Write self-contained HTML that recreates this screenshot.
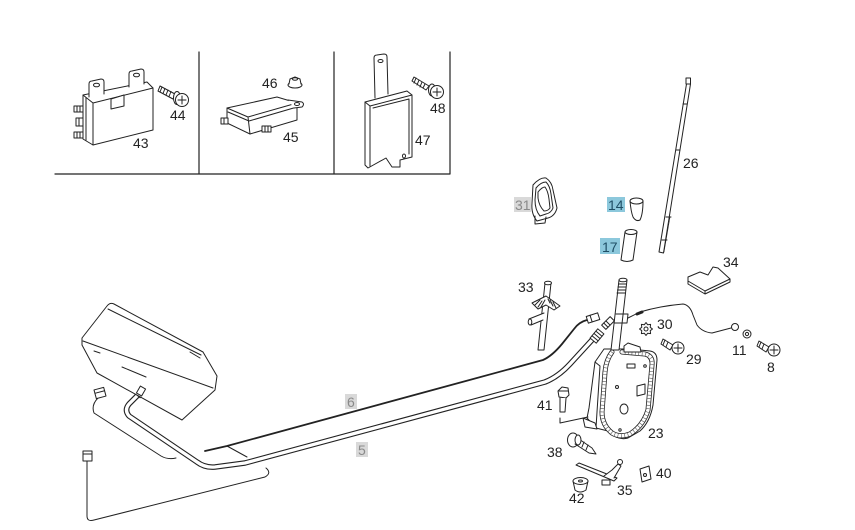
<!DOCTYPE html>
<html><head><meta charset="utf-8">
<style>
html,body{margin:0;padding:0;background:#fff;}
svg{display:block;}
text{font-family:"Liberation Sans",sans-serif;font-size:14px;fill:#222;}
.g{fill:#8a8a8a;}
.b{fill:#1f4f66;}
</style></head><body>
<svg width="855" height="530" viewBox="0 0 855 530" xmlns="http://www.w3.org/2000/svg">
<rect width="855" height="530" fill="#fff"/>
<g fill="none" stroke="#222" stroke-width="1" stroke-linejoin="round" stroke-linecap="round">
<!-- frame -->
<path d="M55,174 H450 M199,52 V174 M334,52 V174 M450,52 V174" stroke-width="1.2"/>

<!-- 43 -->
<path d="M83,95 L147,82 L153,88 L153,130 L93,145 L83,139 Z" fill="#fff"/>
<path d="M83,95 L93,103 L153,88 M93,103 V145 M86,98 V140"/>
<path d="M89,97 V84 Q89,81 92,81 L101,79 Q104,79 104,82 V94" fill="#fff"/>
<ellipse cx="96.5" cy="85" rx="3" ry="1.8"/>
<path d="M129,87 V74 Q129,71 132,71 L141,69 Q144,69 144,72 V84" fill="#fff"/>
<ellipse cx="136.5" cy="75" rx="3" ry="1.8"/>
<path d="M111,99 V109 L124,106 V95 M111,99 L124,95" fill="#fff"/>
<rect x="74" y="106" width="9" height="6" fill="#fff"/><path d="M77,106 V112 M80,106 V112"/>
<rect x="76" y="118" width="7" height="8" fill="#fff"/><path d="M79,118 V126"/>
<rect x="74" y="132" width="9" height="6" fill="#fff"/><path d="M77,132 V138 M80,132 V138"/>

<!-- 44 screw -->
<path d="M160,86 L175,94 L173,99 L158,91 Z" fill="#fff"/>
<path d="M162,87 L160,92 M165,88.5 L163,93.5 M168,90 L166,95 M171,91.5 L169,96.5"/>
<ellipse cx="177" cy="98" rx="3.5" ry="6.5" fill="#fff"/>
<circle cx="182" cy="100" r="6.5" fill="#fff"/>
<path d="M178,100 H186 M182,96 V104"/>

<!-- 45 -->
<path d="M227,108 L277,97 L297,103 L297,120 L250,134 L227,123 Z" fill="#fff"/>
<path d="M227,108 L248,117 L297,103 M248,117 L250,134 M228,112 L249,121 L297,107"/>
<path d="M288,100 L302,102 Q305,104 302,107 L294,108" fill="#fff"/>
<ellipse cx="297" cy="104" rx="2.5" ry="1.5"/>
<rect x="221" y="118" width="7" height="6" fill="#fff"/><path d="M224,118 V124"/>
<rect x="262" y="126" width="9" height="6" fill="#fff"/><path d="M265,126 V132 M268,126 V132"/>
<!-- 46 nut -->
<ellipse cx="295" cy="85" rx="7" ry="3" fill="#fff"/>
<path d="M289,84 L290,79 L295,77 L300,79 L301,84" fill="#fff"/>
<ellipse cx="295" cy="79" rx="2.5" ry="1.2"/>

<!-- 47 -->
<path d="M375,98 L374,58 Q374,55 377,55 L384,54 Q387,54 387,57 L388,94" fill="#fff"/>
<ellipse cx="380.5" cy="61" rx="2.5" ry="1.5"/>
<path d="M365,102 L407,91 L412,95 L412,157 L400,160 V167 L392,167 L386,158 L368,168 L365,165 Z" fill="#fff"/>
<path d="M365,102 L370,106 L412,95 M370,106 V166 M373,108 L409,99 V154"/>
<ellipse cx="404" cy="156" rx="1.5" ry="2"/>
<!-- 48 screw -->
<path d="M414,77 L429,86 L426,90 L412,81 Z" fill="#fff"/>
<path d="M416,78 L414,83 M419,80 L417,85 M422,82 L420,87 M425,84 L423,88"/>
<ellipse cx="432" cy="90" rx="3.5" ry="6" fill="#fff"/>
<circle cx="437" cy="92" r="6.5" fill="#fff"/>
<path d="M433,92 H441 M437,88 V96"/>

<!-- 26 rod -->
<path d="M686.5,84 L659,252 L663.5,253 L690.5,84 Z" fill="#fff"/>
<rect x="686" y="78" width="4.5" height="6" fill="#fff"/>
<path d="M666,217 L671,217 M662,240 L667,240 M683,104 L687,104 M676,150 L680,150"/>
<path d="M670,217 L664,252" stroke-width="0.6"/>

<!-- 34 plate -->
<path d="M688,277 L700,272 L708,275 L713,267 L718,268 L730,279 L705,291 L688,281 Z" fill="#fff"/>
<path d="M688,281 L688,284 L705,294 L730,282 L730,279 M705,291 V294"/>

<!-- 31 -->
<path d="M533,185 Q540,177 546,178 Q552,182 553,190 L557,208 Q555,216 548,218 L537,221 Q531,214 532,203 Z" fill="#fff"/>
<path d="M536,188 Q541,182 546,182 Q550,186 551,194 L553,208 Q551,213 546,214 L540,216 Q535,210 535,200 Z"/>
<path d="M538,192 Q542,187 545,187 Q548,191 549,199 L550,208 Q548,211 544,211 Q539,206 538,198 Z"/>
<path d="M535,216 L535,224 L545,223 L546,217"/>

<!-- 14 -->
<path d="M630,201 Q631,212 633,217 Q636,222 640,220 Q643,214 643,201" fill="#fff"/>
<ellipse cx="636.5" cy="201" rx="6.5" ry="3" fill="#fff"/>
<!-- 17 -->
<path d="M625,232 L621,260 Q627,263 633,260 L637,232" fill="#fff"/>
<ellipse cx="631" cy="232" rx="6" ry="2.5" fill="#fff"/>

<!-- cable 6 -->
<path d="M205,451 L227,446 L543,360 Q552,356 562,344 L574,329 Q579,322 587,320" stroke-width="1.8"/>
<path d="M227,446 L247,457"/>
<g transform="translate(593,318) rotate(-18)"><rect x="-6" y="-3.5" width="12" height="7" fill="#fff"/><path d="M-2,-3.5 V3.5"/></g>

<!-- cable 5 tube -->
<path d="M137,396 L129,404 Q124,410 129,416 L197,462 Q205,468 215,467 L245,463 L545,382 Q558,377 570,364 L592,340" stroke-width="5.5"/>
<path d="M137,396 L129,404 Q124,410 129,416 L197,462 Q205,468 215,467 L245,463 L545,382 Q558,377 570,364 L592,340" stroke="#fff" stroke-width="3.3"/>
<g transform="translate(141,392) rotate(-50)"><rect x="-5" y="-3" width="10" height="6" fill="#fff"/><path d="M5,-1.5 H9 V1.5 H5 M-2,-3 V3 M1,-3 V3"/></g>
<g transform="translate(597,336) rotate(-50)"><rect x="-6" y="-4" width="12" height="8" fill="#fff"/><path d="M-3,-4 V4 M0,-4 V4 M3,-4 V4"/></g>

<!-- radio box -->
<path d="M107,306 Q110,302 114,304 L203,352 L217,376 L215,390 L182,420 L97,373 L82,345 L82,338 Z" fill="#fff"/>
<path d="M83,341 L213,388 M94,351 L100,353 M122,367 L146,377 M190,352 L200,358 M108,309 L201,355"/>
<g transform="translate(141,391) rotate(-60)"><rect x="-4" y="-3" width="8" height="6" fill="#fff"/></g>

<!-- lower connectors & wires -->
<path d="M98,398 Q91,405 94,413 L161,456 Q168,460 176,458"/>
<g transform="translate(100,393) rotate(-15)"><rect x="-5" y="-4.5" width="10" height="9" fill="#fff"/><path d="M-5,-1 H5"/></g>
<path d="M87,461 L87,516 Q87,522 94,520 L265,477 Q272,473 266,468"/>
<rect x="83" y="451" width="9" height="10" fill="#fff"/><path d="M83,454 H92"/>

<!-- 33 -->
<path d="M545,283 L551,283 L544,350 L538,350 Z" fill="#fff"/>
<ellipse cx="548" cy="283" rx="3.5" ry="1.8" fill="#fff"/>
<path d="M532,303 L546,296 L560,306 L554,310 L546,305 L538,309 Z" fill="#fff"/>
<path d="M535,305 L540,300 M538,307 L542,301 M541,307 L545,300 M550,303 L548,299 M553,306 L550,300 M556,308 L553,302"/>
<path d="M544,313 L529,319 L531,325 L543,320" fill="#fff"/>
<ellipse cx="530" cy="322" rx="1.8" ry="3" fill="#fff"/>

<!-- antenna motor 23 -->
<path d="M604,349 L595,362 L589,408 L587,418 L596,428 L608,431 Q618,441 628,438 L640,431 Q650,422 653,405 L657,360 Q657,352 650,351 L630,349 Z" fill="#fff"/>
<path d="M612,352 Q606,360 605,372 L602,412 Q602,425 612,433 Q620,438 630,434 Q643,426 648,410 L652,365 Q653,356 645,354 L622,352" stroke-width="5"/>
<path d="M612,352 Q606,360 605,372 L602,412 Q602,425 612,433 Q620,438 630,434 Q643,426 648,410 L652,365 Q653,356 645,354 L622,352" stroke="#fff" stroke-width="3.4"/>
<path d="M612,352 Q606,360 605,372 L602,412 Q602,425 612,433 Q620,438 630,434 Q643,426 648,410 L652,365 Q653,356 645,354 L622,352" stroke="#555" stroke-width="3.4" stroke-dasharray="0.6 2.8" stroke-linecap="butt"/>
<path d="M595,362 L600,366 L597,412 L596,428"/>
<path d="M583,418 L595,423 L597,429 L585,427 Z" fill="#fff"/>
<rect x="627" y="364" width="8" height="4" fill="#fff"/>
<circle cx="645" cy="366" r="1.3"/><circle cx="617" cy="387" r="1.5"/>
<ellipse cx="624" cy="409" rx="4" ry="5"/>
<path d="M637,386 L645,384 L645,394 L637,396 Z"/>
<circle cx="620" cy="430" r="1.2"/>
<path d="M624,346 L628,343 L634,345 L640,347 L641,352 L624,352 Z" fill="#fff"/>
<!-- mast -->
<path d="M619,280 L611,350 L619,350 L627,280 Z" fill="#fff"/>
<ellipse cx="623" cy="280" rx="4" ry="1.8" fill="#fff"/>
<path d="M618.5,284 H626.5 M618,287 H626 M617.5,290 H625.5 M617,293 H625"/>
<path d="M616,314 L628,314 L627,323 L614,323"/>
<g transform="translate(608,323) rotate(-45)"><rect x="-6" y="-3" width="12" height="6" fill="#fff"/><path d="M-3,-3 V3 M0,-3 V3"/></g>
<path d="M628,318 L640,312 Q660,306 683,304 Q690,305 693,315 L697,325 Q702,332 712,333 L731,328"/>
<path d="M637,314 L642,312" stroke-width="3"/>
<circle cx="735" cy="327" r="3.5"/>

<!-- 30 gear -->
<path d="M652.5,329 L650.2,330.7 L650.6,333.6 L647.7,333.2 L646,335.5 L644.3,333.2 L641.4,333.6 L641.8,330.7 L639.5,329 L641.8,327.3 L641.4,324.4 L644.3,324.8 L646,322.5 L647.7,324.8 L650.6,324.4 L650.2,327.3 Z" fill="#fff"/>
<circle cx="646" cy="329" r="2"/>
<!-- 29 screw -->
<path d="M663,339 L673,345 L670,350 L661,344 Z" fill="#fff"/>
<path d="M665,340 L663,345 M668,342 L666,347"/>
<circle cx="678" cy="348" r="6" fill="#fff"/>
<path d="M674,348 H682 M678,344 V352"/>
<!-- 11 washer -->
<circle cx="747" cy="334" r="4"/><circle cx="747" cy="334" r="1.6"/>
<!-- 8 screw -->
<path d="M759,341 L769,347 L766,352 L757,346 Z" fill="#fff"/>
<path d="M761,342 L759,347 M764,344 L762,349"/>
<circle cx="774" cy="350" r="6" fill="#fff"/>
<path d="M770,350 H778 M774,346 V354"/>

<!-- 41 bolt -->
<path d="M558,391 L562,387 L568,388 L569,395 L566,398 L559,397 Z" fill="#fff"/>
<path d="M559,391 L568,391"/>
<path d="M560,398 L560,412 L565,412 L566,398" fill="#fff"/>
<path d="M560,418 V423 L588,417"/>

<!-- 38 screw -->
<ellipse cx="573" cy="440" rx="5.5" ry="7" fill="#fff"/>
<path d="M576,437 L592,448 L596,454 L589,453 L575,444" fill="#fff"/>
<path d="M580,439 L578,444 M584,442 L582,447 M588,445 L586,450"/>
<ellipse cx="578" cy="440" rx="3" ry="5" fill="#fff"/>

<!-- 35 bracket -->
<path d="M576,465 L579,463 L617,478 L614,481 Z" fill="#fff"/>
<path d="M604,476 L612,470 L618,464 L621,466 L614,478" fill="#fff"/>
<circle cx="620" cy="462" r="2.5" fill="#fff"/>
<rect x="602" y="480" width="8" height="5" fill="#fff"/>

<!-- 42 grommet -->
<path d="M573,481 L575,490 Q580,494 586,490 L588,481" fill="#fff"/>
<ellipse cx="580.5" cy="481" rx="7.5" ry="3.5" fill="#fff"/>
<ellipse cx="580.5" cy="481" rx="2" ry="1"/>

<!-- 40 clip -->
<path d="M640,469 L649,466 L651,479 L642,482 Z" fill="#fff"/>
<circle cx="645" cy="475" r="1.5"/>
</g>

<!-- labels -->
<text x="133" y="148">43</text>
<text x="170" y="120">44</text>
<text x="262" y="88">46</text>
<text x="283" y="142">45</text>
<text x="430" y="113">48</text>
<text x="415" y="145">47</text>
<text x="683" y="168">26</text>
<text x="723" y="267">34</text>
<text x="518" y="292">33</text>
<text x="657" y="329">30</text>
<text x="686" y="364">29</text>
<text x="732" y="355">11</text>
<text x="767" y="372">8</text>
<text x="537" y="410">41</text>
<text x="648" y="438">23</text>
<text x="547" y="457">38</text>
<text x="656" y="478">40</text>
<text x="617" y="495">35</text>
<text x="569" y="503">42</text>

<rect x="514" y="197" width="17" height="15" fill="#d9d9d9"/>
<text x="515" y="210" class="g">31</text>
<rect x="607" y="197" width="18" height="15" fill="#8cc8dc"/>
<text x="608" y="210" class="b">14</text>
<rect x="600" y="238" width="20" height="16" fill="#8cc8dc"/>
<text x="602" y="252" class="b">17</text>
<rect x="345" y="394" width="12" height="15" fill="#d9d9d9"/>
<text x="347" y="407" class="g">6</text>
<rect x="356" y="442" width="12" height="15" fill="#d9d9d9"/>
<text x="358" y="455" class="g">5</text>
</svg>
</body></html>
